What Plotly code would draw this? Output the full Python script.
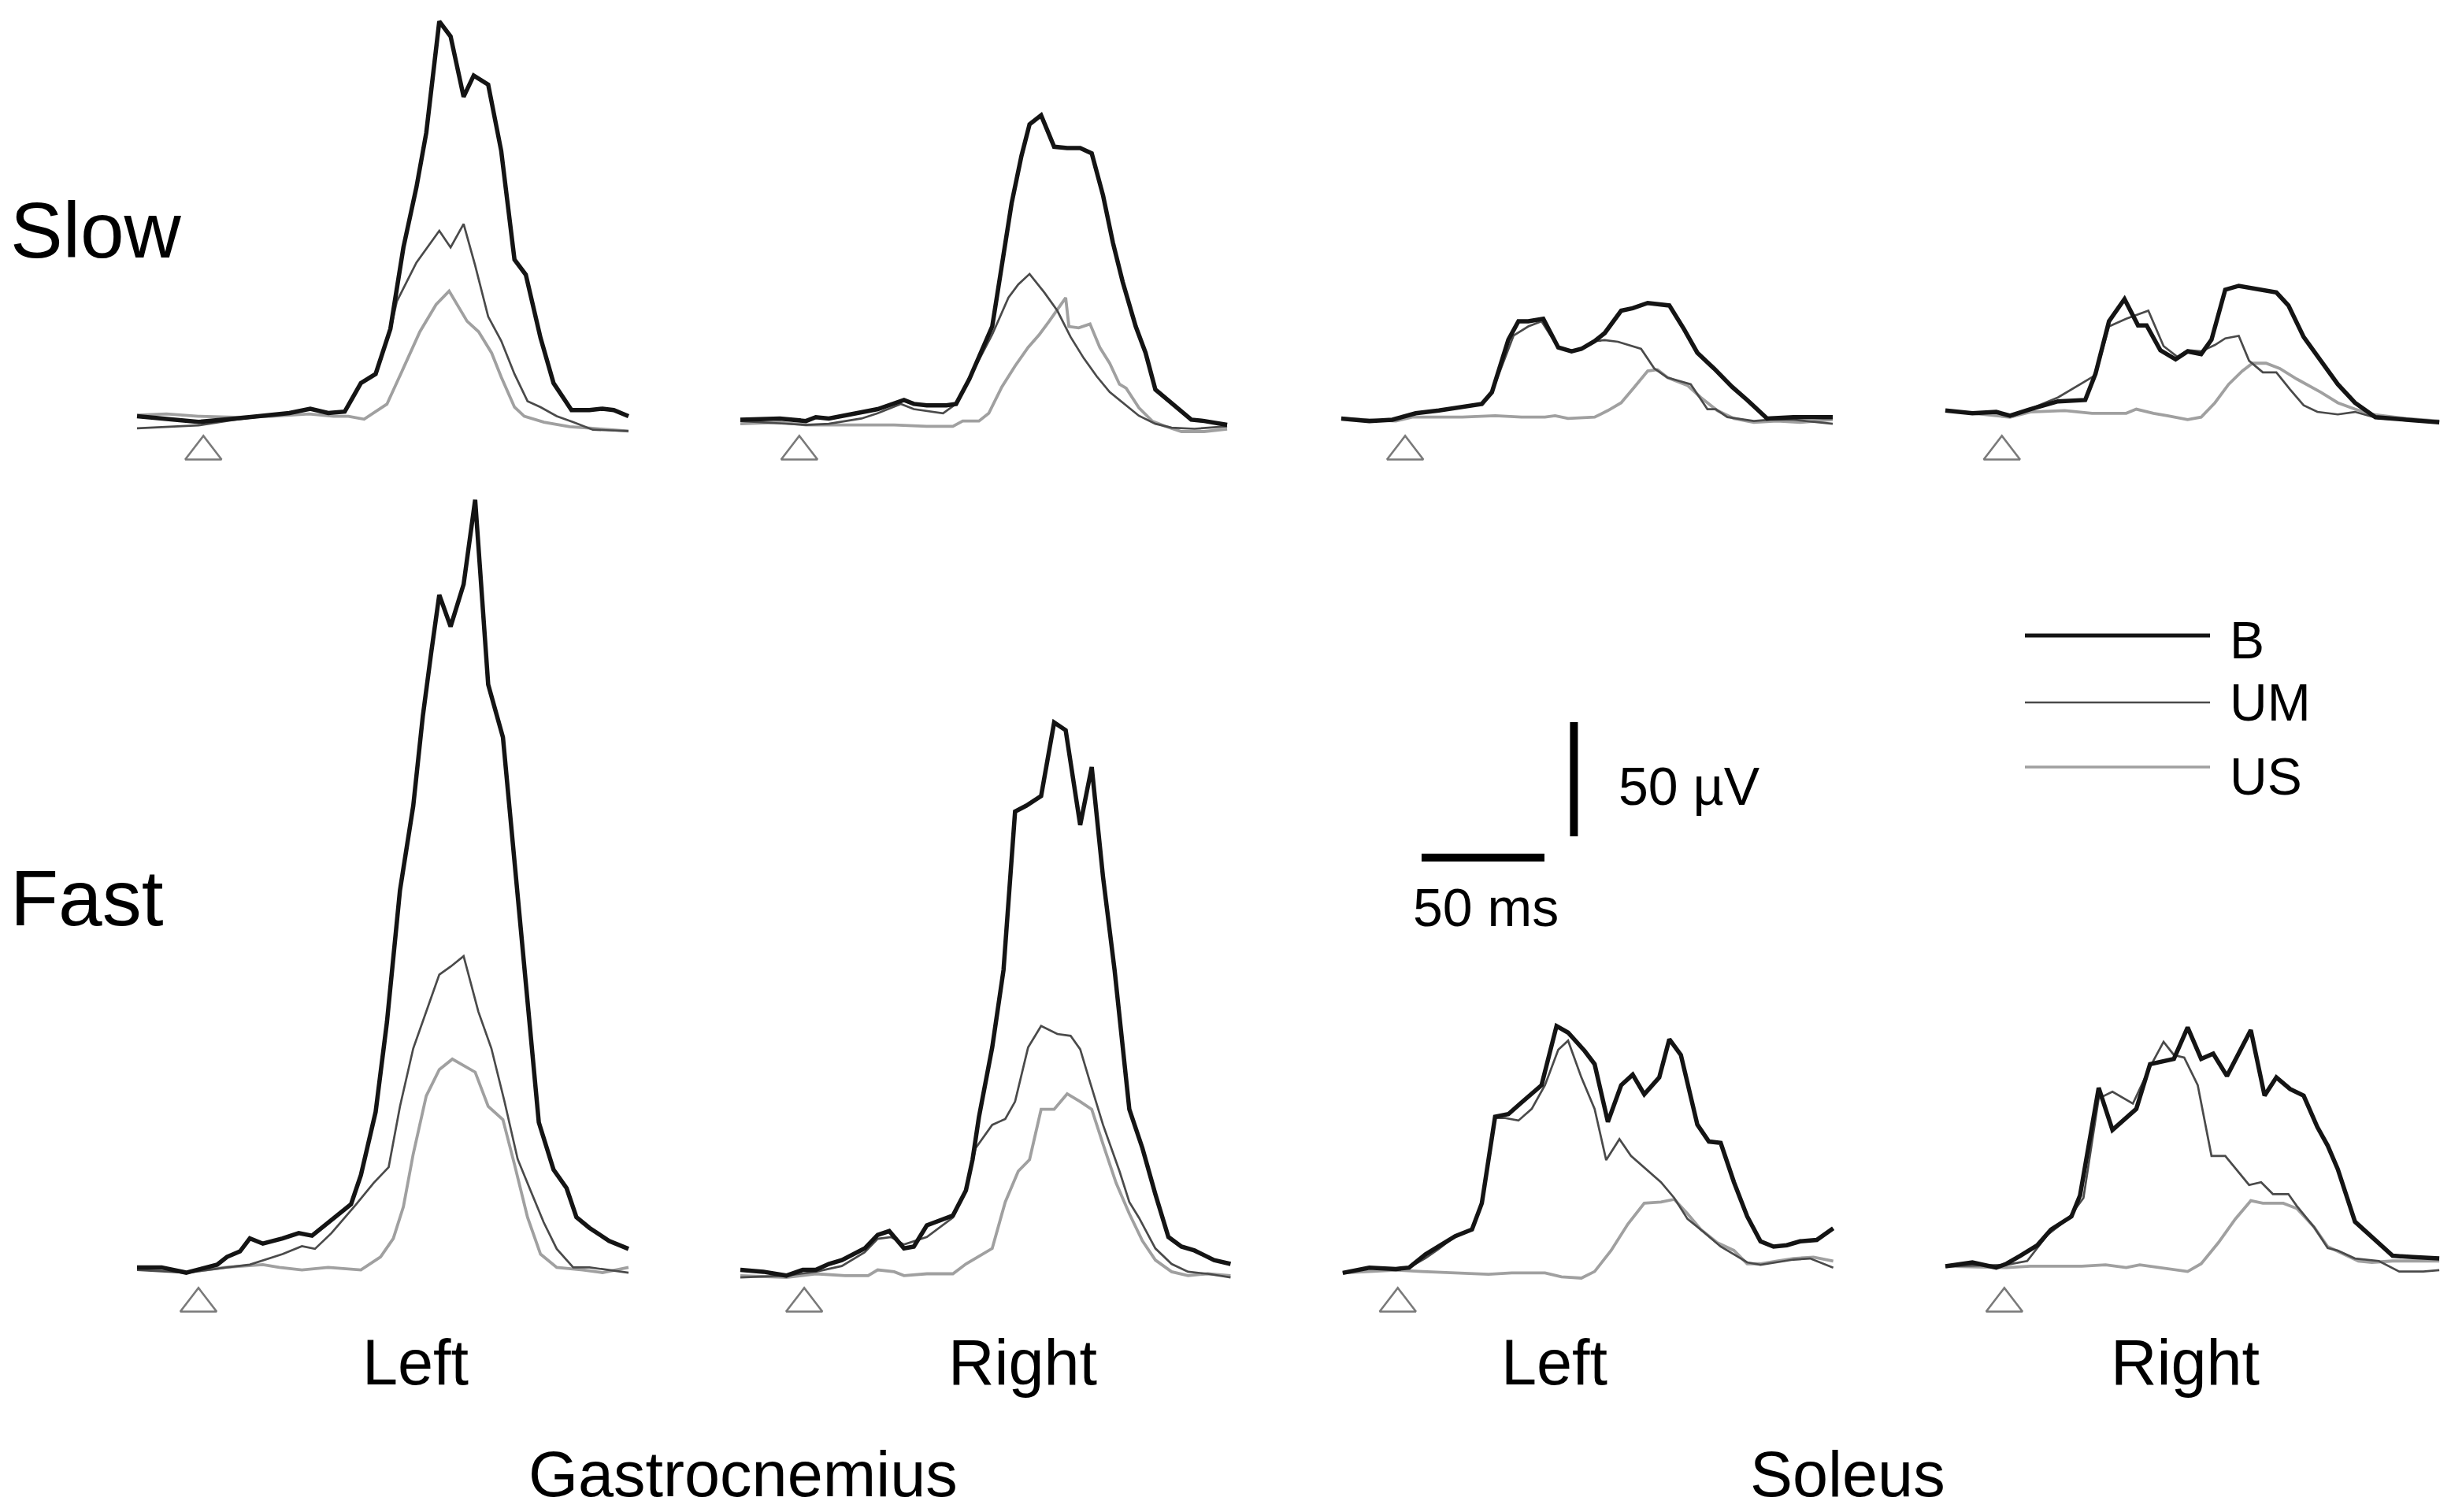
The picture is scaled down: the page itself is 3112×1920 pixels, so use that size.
import plotly.graph_objects as go

# ============ DATA (time in ms from trace start, amplitude in µV) ============
# --- Slow / Gastrocnemius / Left ---
slow_gas_left_B_t = [0, 12, 25, 40, 55, 62, 70.5, 77.8, 84.5, 91.1, 97.1, 103.1, 108.4, 113.7, 117.7, 123, 127.6, 132.9, 137, 142.9, 148.2, 153.6, 158.2, 164.2, 169.5, 176.8, 184.1, 189.4, 194, 200]
slow_gas_left_B_v = [0.5, -0.5, -2, -0.5, 1, 1.9, 3.8, 1.9, 2.5, 15, 19, 38.8, 74.4, 100.8, 124.6, 173.4, 166.8, 140.4, 149.7, 145.7, 116.7, 69.1, 62.5, 34.8, 15, 3.2, 3.2, 3.8, 3.2, 0.5]
slow_gas_left_UM_t = [0, 25, 40, 55, 62, 70.5, 77.8, 84.5, 91.1, 97.1, 103.1, 105.7, 113.7, 123, 127.6, 132.9, 137.6, 142.9, 148.2, 153.6, 158.9, 164.2, 170.8, 177.5, 185.5, 200]
slow_gas_left_UM_v = [-4.8, -3.5, -1, 1, 1.9, 3.8, 1.9, 2.5, 15, 19, 38, 50.7, 67.8, 81.7, 74.4, 84.7, 66.5, 44.1, 33.5, 19, 7.1, 4.5, 0.5, -2.1, -5.4, -6]
slow_gas_left_US_t = [0, 12, 25, 40, 55, 70, 80, 86, 92.4, 101.7, 108.4, 115.1, 121.7, 127, 134.3, 139, 144.3, 148.2, 153.6, 157.6, 165.6, 176.1, 185.4, 200]
slow_gas_left_US_v = [1, 1.5, 0.5, 0, 0.5, 1.5, 0.5, 0.5, -0.8, 5.8, 21.6, 37.5, 49.4, 55.3, 42.1, 37.5, 28.2, 17.7, 4.5, 0.5, -2.1, -4.1, -4.8, -6]

# --- Slow / Gastrocnemius / Right ---
slow_gas_right_B_t = [0, 16.1, 26.7, 30.7, 36, 49.3, 55.9, 66.6, 70.6, 75.9, 83.8, 87.8, 93.2, 102.5, 106.4, 110.4, 114.4, 117.7, 122.4, 127.7, 133, 138.3, 143, 147.6, 151.6, 155.6, 160.9, 164.9, 168.9, 175.5, 183.5, 188.8, 198.1]
slow_gas_right_B_v = [-1, -0.5, -1.6, 0.1, -0.5, 2.4, 3.6, 7.6, 5.9, 5.3, 5.3, 5.9, 16.8, 39.8, 65.1, 93.8, 114.5, 128.3, 132.3, 118.5, 117.9, 117.9, 115.6, 97.2, 76.6, 59.3, 39.8, 28.3, 12.2, 6.4, -1, -1.6, -3.3]
slow_gas_right_UM_t = [0, 26.7, 36, 49.3, 55.9, 65.3, 70.6, 82.5, 87.8, 97.1, 102.5, 109.1, 113.1, 117.7, 123.7, 129, 134.4, 139.7, 145, 150.3, 155.6, 162.2, 168.9, 175.5, 184.8, 198.1]
slow_gas_right_UM_v = [-1.6, -3.3, -2.8, -0.5, 1.8, 5.9, 3.6, 1.8, 5.9, 24.8, 36.3, 52.4, 58.2, 62.8, 54.7, 46.7, 35.2, 26, 18, 11.1, 6.4, 0.7, -2.8, -4.5, -5, -3.9]
slow_gas_right_US_t = [0, 16.1, 26.7, 49.3, 62.6, 75.9, 86.5, 90.5, 97.1, 101.1, 106.4, 111.8, 117.1, 121.7, 125.7, 132.4, 133.7, 137.7, 142.3, 146.3, 150.3, 154.3, 157, 162.2, 167.6, 172.9, 179.5, 188.8, 198.1]
slow_gas_right_US_v = [-2.8, -2.2, -3.3, -3.3, -3.3, -3.9, -3.9, -1.6, -1.6, 1.8, 13.3, 22.5, 30.6, 36.3, 42.1, 52.4, 39.8, 39.2, 40.9, 30.6, 23.7, 14.5, 12.8, 4.2, -1.6, -3.9, -6.2, -6.2, -5.1]

# --- Slow / Soleus / Left ---
slow_sol_left_B_t = [0, 11.4, 20.8, 30.3, 39.7, 49.2, 57.2, 61.3, 68, 72.1, 76.1, 82.2, 88.3, 93.7, 97.7, 103.1, 107.2, 113.9, 118.6, 124.7, 130.1, 133.5, 139.5, 144.9, 151.7, 159.1, 165.2, 170.6, 173.3, 184, 190.8, 200]
slow_sol_left_B_v = [-0.5, -1.6, -1, 1.8, 3, 4.7, 5.9, 11, 34, 42.1, 42.1, 43.2, 30.6, 28.9, 30, 33.4, 36.9, 46.7, 47.8, 50.1, 49.5, 49, 38.6, 28.3, 21.4, 13.3, 7.6, 1.8, -0.5, 0.1, 0.1, 0.1]
slow_sol_left_UM_t = [0, 11.4, 20.8, 30.3, 39.7, 49.2, 57.2, 61.3, 70.1, 76.1, 81.5, 88.3, 93.7, 97.7, 103.1, 107.2, 112.6, 122, 127.4, 132.8, 142.2, 149, 152.4, 157.1, 167.9, 174.6, 184, 200]
slow_sol_left_UM_v = [-0.5, -1.6, -1, 1.8, 3, 4.7, 5.9, 11, 35.8, 39.8, 42.1, 30.6, 28.9, 30, 33.4, 33.8, 33.1, 30, 21.4, 17.4, 14.5, 3.6, 3.6, 0.1, -1.6, -1, -1, -2.8]
slow_sol_left_US_t = [0, 22.2, 28.9, 49.2, 62.6, 73.4, 82.9, 87, 92.3, 103.1, 108.5, 113.9, 119.3, 124.7, 128.7, 132.8, 140.9, 146.3, 153, 159.8, 167.9, 177.3, 186.7, 200]
slow_sol_left_US_v = [-0.5, -1.6, 0.1, 0.1, 0.7, 0.1, 0.1, 0.7, -0.5, 0.1, 3, 6.4, 13.3, 20.3, 20.9, 17.4, 14, 8.7, 3, -0.5, -2.2, -1.6, -2.2, -1]

# --- Slow / Soleus / Right ---
slow_sol_right_B_t = [0, 11, 20.7, 26.3, 34.6, 45.8, 56.9, 61.1, 66.6, 72.9, 78.4, 81.9, 87.5, 93.7, 98.6, 104.1, 108.3, 113.9, 119.4, 134.7, 139.6, 145.8, 152.8, 159.7, 166.7, 175, 187.5, 201]
slow_sol_right_B_v = [3, 1.8, 2.4, 0.7, 3.6, 7, 7.6, 19.1, 42.1, 51.8, 40.3, 40.3, 29.4, 25.4, 28.9, 27.7, 34, 55.9, 57.6, 54.7, 49, 35.2, 24.8, 14.5, 6.4, 0.1, -1, -2.2]
slow_sol_right_UM_t = [0, 11, 20.7, 27.7, 45.8, 61.1, 66.6, 73.6, 82.6, 85.4, 88.8, 94.4, 98.6, 104.1, 109.7, 113.9, 119.4, 123.6, 129.2, 134.7, 140.3, 145.8, 151.4, 159.7, 166.7, 176.4, 187.5, 201]
slow_sol_right_UM_v = [3, 1.8, 2.4, 0.7, 8.7, 18.5, 39.8, 43.2, 46.7, 39.8, 31.2, 26.5, 29.4, 28.9, 31.7, 34.6, 35.7, 24.8, 19.7, 19.7, 12.2, 5.3, 2.4, 1.3, 2.4, -0.5, -1, -1.6]
slow_sol_right_US_t = [0, 26.3, 34.6, 48.6, 59.7, 73.6, 77.7, 84.7, 90.3, 98.6, 104.1, 109.7, 115.3, 120.8, 125, 130.5, 136.1, 143, 152.8, 159.7, 166.7, 173.6, 187.5, 201]
slow_sol_right_US_v = [3, 0.1, 2.4, 3, 1.8, 1.8, 3.6, 1.8, 0.7, -1, 0.1, 6.4, 14.5, 20.3, 23.7, 23.7, 21.4, 16.8, 11, 6.4, 3.6, 1.3, -0.5, -1.6]

# --- Fast / Gastrocnemius / Left ---
fast_gas_left_B_t = [0, 10, 20, 32.6, 36.6, 41.9, 45.9, 51.2, 59.2, 65.8, 71.2, 77.8, 87.1, 91.1, 97.1, 101.7, 107, 112.4, 116.3, 119.7, 123, 127.6, 132.9, 137.6, 142.9, 148.9, 157.5, 163.5, 169.5, 174.8, 178.8, 184.1, 192.1, 200]
fast_gas_left_B_v = [0.9, 0.9, -1.4, 2.1, 5.5, 7.9, 13.6, 11.3, 13.6, 15.9, 14.8, 20.6, 28.6, 41.3, 69, 108.3, 166, 203, 242.3, 270, 295.4, 281.5, 300, 337, 256.1, 233, 133.7, 64.4, 43.7, 35.6, 22.9, 18.2, 12.5, 9]
fast_gas_left_UM_t = [0, 20, 36.6, 45.9, 59.2, 67.1, 72.4, 79.1, 88.4, 96.3, 102.4, 107, 112.4, 117.7, 123, 127.6, 132.9, 138.9, 144.2, 149.5, 154.9, 160.2, 165.5, 170.8, 177.5, 184.1, 192.1, 200]
fast_gas_left_UM_v = [-0.2, -1.4, 0.9, 2.1, 6.7, 10.2, 9, 15.9, 27.5, 37.9, 44.8, 71.4, 96.8, 112.9, 129.1, 132.6, 137.2, 112.9, 96.8, 73.7, 48.3, 34.4, 20.6, 9, 0.9, 0.9, -0.2, -1.4]
fast_gas_left_US_t = [0, 20, 35.9, 51.2, 57.9, 67.1, 77.8, 91.1, 99.1, 104.3, 108.4, 112.4, 117.7, 123, 128.3, 137.6, 142.9, 148.9, 153.6, 158.9, 164.2, 170.8, 181.4, 189.4, 200]
fast_gas_left_US_v = [0.9, -1.4, 0.9, 2.1, 0.9, -0.2, 0.9, -0.2, 5.5, 13.6, 27.5, 50.6, 76, 87.5, 92.1, 86.4, 71.4, 65.6, 46, 22.9, 6.7, 0.9, -0.2, -1.4, 0.9]

# --- Fast / Gastrocnemius / Right ---
fast_gas_right_B_t = [0, 9.4, 18.7, 25.4, 30.7, 36, 41.3, 50.6, 55.9, 60.6, 66.6, 70.6, 75.9, 79.9, 86.5, 91.8, 94.5, 97.1, 102.5, 107.1, 111.8, 116.4, 122.4, 127.7, 132.4, 138.3, 143, 147.6, 152.3, 158.3, 163.6, 168.9, 174.2, 179.5, 184.8, 192.8, 199.5]
fast_gas_right_B_v = [-0.2, -1, -2.7, -0.2, -0.2, 2.4, 4.1, 9.2, 15.1, 16.8, 9.2, 10, 19.3, 21, 23.6, 34.6, 48.1, 66.7, 97.2, 131.1, 200.5, 203.1, 207.3, 239.5, 236.1, 194.6, 220, 171.8, 131.1, 70.1, 53.2, 32.9, 14.2, 10, 8.3, 4.1, 2.4]
fast_gas_right_UM_t = [0, 18.7, 30.7, 41.3, 50.6, 55.9, 61.3, 66.6, 75.9, 86.5, 91.8, 95.8, 102.5, 107.8, 111.8, 117.1, 122.4, 129, 134.4, 138.3, 142.3, 147.6, 154.3, 158.3, 162.2, 168.9, 175.5, 182.2, 190.2, 199.5]
fast_gas_right_UM_v = [-3.5, -2.7, -1, 1.5, 7.5, 13.4, 14.2, 10.9, 14.2, 22.7, 34.6, 53.2, 63.3, 65.9, 73.5, 97.2, 106.6, 103.1, 102.3, 96.4, 82, 63.3, 43, 29.5, 22.7, 9.2, 2.4, -1, -1.9, -3.5]
fast_gas_right_US_t = [0, 18.7, 30.7, 42.7, 52, 55.9, 62.6, 66.6, 75.9, 86.5, 91.8, 102.5, 107.8, 113.1, 117.7, 122.4, 127.7, 133, 138.3, 143, 147.6, 152.9, 158.3, 163.6, 168.9, 175.5, 182.2, 190.2, 199.5]
fast_gas_right_US_v = [-2.7, -3.5, -1.9, -2.7, -2.7, -0.2, -1, -2.7, -1.9, -1.9, 2.4, 9.2, 29.5, 43, 48.1, 70.1, 70.1, 76.9, 73.5, 70.1, 54.9, 37.9, 24.4, 12.6, 4.1, -1, -2.7, -1.9, -2.7]

# --- Fast / Soleus / Left ---
fast_sol_left_B_t = [0.6, 11.4, 22.2, 27.6, 34.3, 39.7, 46.4, 53.2, 57.2, 62.6, 68, 72.8, 81.5, 87.6, 92.3, 99.1, 103.1, 108.5, 113.9, 118.6, 123.3, 129.4, 133.5, 138.2, 144.9, 149.6, 154.4, 159.8, 165.2, 170.6, 175.9, 181.3, 186.7, 193.5, 200.2]
fast_sol_left_B_v = [-1.5, 0.8, 0.2, 0.8, 6.6, 10, 14.6, 17.5, 29, 66.9, 68, 72.6, 80.7, 106.6, 103.7, 95.6, 89.9, 64.6, 80.7, 85.3, 76.7, 84.1, 100.8, 93.9, 63.4, 56, 55.4, 38.2, 23.2, 12.3, 10, 10.6, 12.3, 12.9, 18]
fast_sol_left_UM_t = [0.6, 11.4, 22.2, 27.6, 34.3, 39.7, 46.4, 53.2, 57.2, 62.6, 66.7, 72.1, 77.5, 82.9, 88.3, 92.3, 97.7, 103.1, 107.8, 113.2, 117.9, 123.3, 130.1, 135.5, 140.9, 147.6, 154.4, 159.8, 165.2, 170.6, 177.3, 184, 190.8, 200.2]
fast_sol_left_UM_v = [-1.5, 0.8, 0.2, 0.8, 5, 9, 14.6, 17.5, 29, 66.3, 66.3, 65.2, 70.3, 80.7, 96.2, 100.2, 84.1, 70.3, 47.9, 57.1, 49.7, 44.5, 38.2, 31.3, 22.1, 16.3, 10, 6.6, 3.1, 2, 3.1, 4.3, 4.8, 0.8]
fast_sol_left_US_t = [0.6, 22.2, 32.9, 49.2, 59.9, 69.4, 82.9, 89.6, 97.7, 103.1, 109.8, 116.6, 123.3, 130.1, 135.5, 140.9, 146.3, 153, 159.8, 165.2, 170.6, 177.3, 184, 192.2, 200.2]
fast_sol_left_US_v = [-1.5, -0.3, -0.9, -1.5, -2.1, -1.5, -1.5, -3.2, -3.8, -0.9, 8.3, 19.8, 29, 29.5, 30.7, 24.4, 17.5, 11.7, 8.3, 2.5, 2.5, 3.7, 4.8, 5.4, 3.7]

# --- Fast / Soleus / Right ---
fast_sol_right_B_t = [0, 11, 20.7, 24.9, 30.5, 37.4, 43, 51.3, 54.8, 58.3, 62.4, 68, 77.7, 83.3, 93, 98.6, 104.1, 109, 114.6, 124.3, 129.9, 134.7, 140.3, 145.8, 151.4, 155.6, 159.7, 166.7, 175, 182, 190.3, 201]
fast_sol_right_B_v = [1.4, 3.1, 0.8, 2.5, 6, 10.6, 17.5, 23.2, 32.4, 54.2, 79.5, 61.1, 70.3, 89.9, 92.2, 106, 92.2, 94.5, 84.7, 104.8, 76.1, 84.1, 79, 76.1, 62.3, 54.2, 43.9, 20.9, 12.9, 6, 5.4, 4.8]
fast_sol_right_UM_t = [0, 24.9, 33.3, 41.6, 49.9, 56.2, 62.4, 68, 76.3, 83.3, 88.8, 93, 97.2, 102.7, 108.3, 113.9, 123.6, 128.5, 133.3, 139.6, 143, 150, 155.6, 159.7, 166.7, 176.4, 184.7, 194.5, 201]
fast_sol_right_UM_v = [1.4, 2, 3.7, 15.2, 22.1, 31.3, 74.9, 77.8, 72.6, 88.7, 99.7, 93.9, 92.8, 80.7, 49.7, 49.7, 37, 38.2, 33, 33, 27.8, 18.6, 9.4, 8.3, 4.8, 3.7, -0.9, -0.9, -0.3]
fast_sol_right_US_t = [0, 24.9, 34.6, 55.5, 65.2, 73.6, 79.1, 90.2, 98.6, 104.1, 111.1, 118, 124.3, 129.2, 137.5, 143, 150, 155.6, 162.5, 168.1, 173.6, 182, 190.3, 201]
fast_sol_right_US_v = [1.4, 0.8, 1.4, 1.4, 2, 0.8, 2, 0.2, -0.9, 2.5, 11.7, 22.1, 30.1, 29, 29, 26.7, 18.6, 10, 6.6, 3.7, 3.1, 3.7, 3.7, 3.7]

# --- labels / other values ---
conditions = ["Slow", "Fast"]
sides = ["Left", "Right", "Left", "Right"]
muscles = ["Gastrocnemius", "Soleus"]
series_names = ["B", "UM", "US"]
onset_ms = [27, 24, 26, 23, 25, 26, 23, 24]   # stimulus onset (open triangles)
scale_ms = 50
scale_uv = 50

panels = [
    [(slow_gas_left_B_t, slow_gas_left_B_v), (slow_gas_left_UM_t, slow_gas_left_UM_v), (slow_gas_left_US_t, slow_gas_left_US_v)],
    [(slow_gas_right_B_t, slow_gas_right_B_v), (slow_gas_right_UM_t, slow_gas_right_UM_v), (slow_gas_right_US_t, slow_gas_right_US_v)],
    [(slow_sol_left_B_t, slow_sol_left_B_v), (slow_sol_left_UM_t, slow_sol_left_UM_v), (slow_sol_left_US_t, slow_sol_left_US_v)],
    [(slow_sol_right_B_t, slow_sol_right_B_v), (slow_sol_right_UM_t, slow_sol_right_UM_v), (slow_sol_right_US_t, slow_sol_right_US_v)],
    [(fast_gas_left_B_t, fast_gas_left_B_v), (fast_gas_left_UM_t, fast_gas_left_UM_v), (fast_gas_left_US_t, fast_gas_left_US_v)],
    [(fast_gas_right_B_t, fast_gas_right_B_v), (fast_gas_right_UM_t, fast_gas_right_UM_v), (fast_gas_right_US_t, fast_gas_right_US_v)],
    [(fast_sol_left_B_t, fast_sol_left_B_v), (fast_sol_left_UM_t, fast_sol_left_UM_v), (fast_sol_left_US_t, fast_sol_left_US_v)],
    [(fast_sol_right_B_t, fast_sol_right_B_v), (fast_sol_right_UM_t, fast_sol_right_UM_v), (fast_sol_right_US_t, fast_sol_right_US_v)],
]
for p in panels:
    for t, v in p:
        assert len(t) == len(v), (len(t), len(v))

# ============ LAYOUT / STYLE ============
W, H = 3112, 1920
FONT = "Liberation Sans, Arial, Helvetica, sans-serif"
PX_PER_MS = 3.12
PX_PER_UV = 2.9
col_start_px = [166, 932, 1695, 2462]
row_base_px = [522, 1604]
row_uv_range = [(-25, 180), (-26, 344)]
x_ms_range = (-2, 204)
ONSET_Y = -15

styles = {
    "B": dict(color="#141414", width=5.5),
    "UM": dict(color="#4a4a4a", width=2.7),
    "US": dict(color="#a0a0a0", width=3.8),
}

fig = go.Figure()
layout_axes = {}

def px_to_paper_x(px):
    return px / W

def px_to_paper_y(py):
    return 1 - py / H

for i, panel in enumerate(panels):
    r, c = divmod(i, 4)
    k = i + 1
    xs = col_start_px[c]
    x0 = xs + x_ms_range[0] * PX_PER_MS
    x1 = xs + x_ms_range[1] * PX_PER_MS
    base = row_base_px[r]
    y0, y1 = row_uv_range[r]
    py_bottom = base - y0 * PX_PER_UV
    py_top = base - y1 * PX_PER_UV
    xname = "xaxis" if k == 1 else f"xaxis{k}"
    yname = "yaxis" if k == 1 else f"yaxis{k}"
    layout_axes[xname] = dict(domain=[px_to_paper_x(x0), px_to_paper_x(x1)], range=list(x_ms_range),
                              visible=False, anchor=f"y{k}" if k > 1 else "y")
    layout_axes[yname] = dict(domain=[max(0, px_to_paper_y(py_bottom)), min(1, px_to_paper_y(py_top))],
                              range=[y0, y1], visible=False, anchor=f"x{k}" if k > 1 else "x")
    xa = "x" if k == 1 else f"x{k}"
    ya = "y" if k == 1 else f"y{k}"
    # draw US, UM, then B on top
    for idx in [2, 1, 0]:
        name = series_names[idx]
        t, v = panel[idx]
        fig.add_trace(go.Scatter(x=t, y=v, mode="lines", xaxis=xa, yaxis=ya,
                                 line=dict(color=styles[name]["color"], width=styles[name]["width"]),
                                 showlegend=False, hoverinfo="skip"))
    fig.add_trace(go.Scatter(x=[onset_ms[i]], y=[ONSET_Y], mode="markers", xaxis=xa, yaxis=ya,
                             marker=dict(symbol="triangle-up-open", size=40, color="#7a7a7a",
                                         line=dict(width=2.6, color="#7a7a7a")),
                             showlegend=False, hoverinfo="skip", cliponaxis=False))

# scale-bar axis (same px/ms and px/µV as the panels)
SB_X0_PX, SB_X1_PX = 1772, 2272
SB_Y_TOP_PX, SB_Y_BOT_PX = 874, 1194
layout_axes["xaxis9"] = dict(domain=[px_to_paper_x(SB_X0_PX), px_to_paper_x(SB_X1_PX)],
                             range=[0, (SB_X1_PX - SB_X0_PX) / PX_PER_MS], visible=False, anchor="y9")
layout_axes["yaxis9"] = dict(domain=[px_to_paper_y(SB_Y_BOT_PX), px_to_paper_y(SB_Y_TOP_PX)],
                             range=[0, (SB_Y_BOT_PX - SB_Y_TOP_PX) / PX_PER_UV], visible=False, anchor="x9")
HBAR_X0, HBAR_Y = 8, 39
VBAR_X, VBAR_Y0 = 70, 48.3
fig.add_trace(go.Scatter(x=[HBAR_X0, HBAR_X0 + scale_ms], y=[HBAR_Y, HBAR_Y], mode="lines",
                         xaxis="x9", yaxis="y9", line=dict(color="black", width=10),
                         showlegend=False, hoverinfo="skip"))
fig.add_trace(go.Scatter(x=[VBAR_X, VBAR_X], y=[VBAR_Y0, VBAR_Y0 + scale_uv], mode="lines",
                         xaxis="x9", yaxis="y9", line=dict(color="black", width=10),
                         showlegend=False, hoverinfo="skip"))

annotations = []

def add_text(text, px, py, size, xanchor="center"):
    annotations.append(dict(text=text, x=px_to_paper_x(px), y=px_to_paper_y(py), xref="paper", yref="paper",
                            xanchor=xanchor, yanchor="middle", showarrow=False, borderpad=0,
                            font=dict(family=FONT, size=size, color="black")))

add_text(conditions[0], 4, 284, 100, "left")
add_text(conditions[1], 4, 1132, 100, "left")
for lbl, cx in zip(sides, [519, 1290, 1965, 2766]):
    add_text(lbl, cx, 1722, 81)
add_text(muscles[0], 935, 1864, 81)
add_text(muscles[1], 2338, 1864, 81)
add_text(f"{scale_uv} µV", 2046, 990, 68, "left")
add_text(f"{scale_ms} ms", 1878, 1144, 68)

# legend (long line samples)
shapes = []
leg_y = [799, 884, 966]
leg_txt_y = [805, 884, 978]
for name, ly, ty in zip(series_names, leg_y, leg_txt_y):
    shapes.append(dict(type="line", xref="paper", yref="paper",
                       x0=px_to_paper_x(2563), x1=px_to_paper_x(2798),
                       y0=px_to_paper_y(ly), y1=px_to_paper_y(ly),
                       line=dict(color=styles[name]["color"], width=styles[name]["width"] * 0.9)))
    add_text(name, 2822, ty, 66, "left")

fig.update_layout(width=W, height=H, margin=dict(l=0, r=0, t=0, b=0),
                  paper_bgcolor="white", plot_bgcolor="rgba(0,0,0,0)",
                  annotations=annotations, shapes=shapes, showlegend=False, **layout_axes)

fig.write_html("out.html", include_plotlyjs=True, config={"displayModeBar": False})
